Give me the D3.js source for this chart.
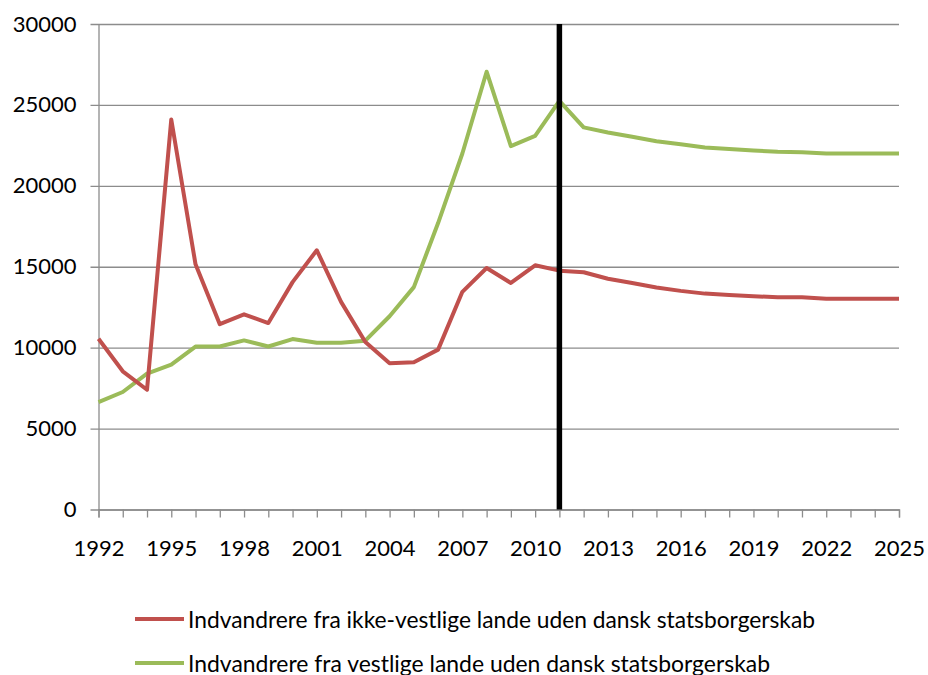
<!DOCTYPE html>
<html>
<head>
<meta charset="utf-8">
<script src="https://cdn.jsdelivr.net/npm/d3@7"></script>
<style>
  body { margin: 0; background: #fff; }
  text { font-family: Lato, "Open Sans", sans-serif; fill: #000; }
</style>
</head>
<body>
<div id="chart"></div>
<script>
// Data
var years = d3.range(1992, 2026);
var nonWestern = [10550, 8540, 7400, 24100, 15150, 11450, 12060, 11520, 14050, 16020,
  12830, 10350, 9040, 9100, 9880, 13450, 14920, 14000, 15090, 14760,
  14660, 14260, 14000, 13720, 13510, 13340, 13260, 13180, 13110, 13110,
  13030, 13030, 13030, 13030];
var western = [6640, 7260, 8390, 8950, 10070, 10070, 10450, 10070, 10530, 10310,
  10310, 10430, 11940, 13740, 17700, 22000, 27050, 22450, 23090, 25250,
  23610, 23300, 23030, 22760, 22570, 22370, 22270, 22180, 22100, 22080,
  22000, 22000, 22000, 22000];
var seriesNames = [
  "Indvandrere fra ikke-vestlige lande uden dansk statsborgerskab",
  "Indvandrere fra vestlige lande uden dansk statsborgerskab"
];
var yTicks = [0, 5000, 10000, 15000, 20000, 25000, 30000];
var xLabelYears = d3.range(1992, 2026, 3);
var markerYear = 2011;

var W = 928, H = 675;
var plot = {left: 98.5, right: 899, top: 24, bottom: 509.5};

var svg = d3.select("#chart").append("svg")
  .attr("width", W)
  .attr("height", H);

var x = d3.scaleLinear().domain([1992, 2025]).range([plot.left, plot.right]);
var y = d3.scaleLinear().domain([0, 30000]).range([plot.bottom, plot.top]);

// gridlines
svg.append("g")
  .attr("transform", "translate(" + (plot.left - 8) + ",0)")
  .call(d3.axisRight(y).tickValues(yTicks).tickSize(plot.right - plot.left + 8).tickFormat(""))
  .call(g => g.select(".domain").remove())
  .selectAll("line")
  .attr("stroke", "#8c8c8c")
  .attr("stroke-width", 1.3);

// y axis
svg.append("g")
  .attr("transform", "translate(" + plot.left + ",0)")
  .call(d3.axisLeft(y).tickValues(yTicks).tickSize(0).tickPadding(22).tickFormat(d3.format("d")))
  .call(g => g.select(".domain").attr("stroke", "#8c8c8c").attr("stroke-width", 1.3))
  .selectAll("text")
  .style("font-size", "22px");

// x axis
var xAxis = svg.append("g")
  .attr("transform", "translate(0," + plot.bottom + ")")
  .call(d3.axisBottom(x).tickValues(years).tickSize(8).tickPadding(23)
    .tickFormat(d => xLabelYears.indexOf(d) >= 0 ? d : ""));
xAxis.select(".domain").attr("stroke", "#8c8c8c").attr("stroke-width", 1.3);
xAxis.selectAll("line").attr("stroke", "#8c8c8c").attr("stroke-width", 1.3);
xAxis.selectAll("text").style("font-size", "22px");

// lines
var line = d3.line()
  .x((d, i) => x(years[i]))
  .y(d => y(d));

svg.append("path")
  .datum(western)
  .attr("fill", "none")
  .attr("stroke", "#9bbb59")
  .attr("stroke-width", 4)
  .attr("stroke-linejoin", "round")
  .attr("d", line);

svg.append("path")
  .datum(nonWestern)
  .attr("fill", "none")
  .attr("stroke", "#c0504d")
  .attr("stroke-width", 4)
  .attr("stroke-linejoin", "round")
  .attr("d", line);

// vertical marker
svg.append("line")
  .attr("x1", x(markerYear)).attr("x2", x(markerYear))
  .attr("y1", y(30000)).attr("y2", y(0))
  .attr("stroke", "#000")
  .attr("stroke-width", 5.5);

// legend
var colors = ["#c0504d", "#9bbb59"];
var textLen = [627, 582];
var legend = svg.append("g");
seriesNames.forEach(function(name, i) {
  var ly = 619 + i * 44;
  legend.append("line")
    .attr("x1", 135).attr("x2", 184)
    .attr("y1", ly).attr("y2", ly)
    .attr("stroke", colors[i])
    .attr("stroke-width", 4);
  legend.append("text")
    .attr("x", 188)
    .attr("y", ly + 9)
    .attr("textLength", textLen[i])
    .attr("lengthAdjust", "spacingAndGlyphs")
    .style("font-size", "23px")
    .text(name);
});
</script>
</body>
</html>
